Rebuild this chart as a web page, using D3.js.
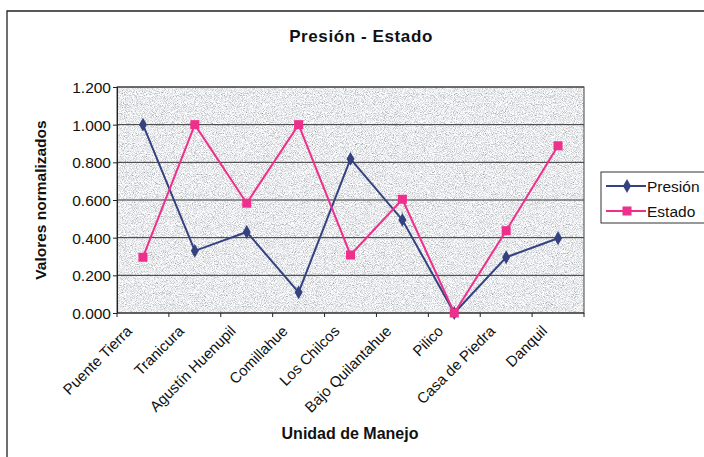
<!DOCTYPE html>
<html>
<head>
<meta charset="utf-8">
<script src="https://cdn.jsdelivr.net/npm/d3@7"></script>
<style>
  body { margin: 0; background: #fff; }
  text { font-family: "Liberation Sans", Arial, sans-serif; }
</style>
</head>
<body>
<svg id="chart" width="704" height="457"></svg>
<script>
// chart data
const unidades = ["Puente Tierra", "Tranicura", "Agustín Huenupil", "Comillahue", "Los Chilcos",
  "Bajo Quilantahue", "Pilico", "Casa de Piedra", "Danquil"];
const presion = [1.000, 0.330, 0.430, 0.110, 0.818, 0.494, 0.000, 0.296, 0.397];
const estado = [0.296, 1.000, 0.583, 1.000, 0.308, 0.604, 0.000, 0.437, 0.888];
const yTicks = [0, 0.2, 0.4, 0.6, 0.8, 1.0, 1.2];

const svg = d3.select("#chart");
const margin = { left: 117, top: 87, right: 584, bottom: 313 };

// speckled grey fill like the scanned plot area
const defs = svg.append("defs");
const filter = defs.append("filter").attr("id", "noise")
  .attr("x", 0).attr("y", 0).attr("width", "100%").attr("height", "100%");
filter.append("feTurbulence")
  .attr("type", "fractalNoise").attr("baseFrequency", 1.1).attr("numOctaves", 2).attr("seed", 7)
  .attr("result", "t");
filter.append("feColorMatrix").attr("in", "t").attr("type", "matrix")
  .attr("values", "1.3 0 0 0 0.16  1.3 0 0 0 0.175  1.3 0 0 0 0.195  0 0 0 0 1");

// outer chart border
svg.append("path")
  .attr("d", "M7,457 L7,11 L704,11")
  .attr("fill", "none").attr("stroke", "#222").attr("stroke-width", 1.3);

const x = d3.scaleBand().domain(unidades).range([margin.left, margin.right]);
const y = d3.scaleLinear().domain([0, 1.2]).range([margin.bottom, margin.top]);

// plot area
svg.append("rect")
  .attr("x", margin.left).attr("y", margin.top)
  .attr("width", margin.right - margin.left).attr("height", margin.bottom - margin.top)
  .attr("fill", "#c8ccd1").attr("filter", "url(#noise)");

// gridlines
svg.append("g").selectAll("line").data(yTicks.slice(1)).join("line")
  .attr("x1", margin.left).attr("x2", margin.right)
  .attr("y1", d => y(d)).attr("y2", d => y(d))
  .attr("stroke", "#333").attr("stroke-width", 1);

svg.append("rect")
  .attr("x", margin.left).attr("y", margin.top)
  .attr("width", margin.right - margin.left).attr("height", margin.bottom - margin.top)
  .attr("fill", "none").attr("stroke", "#444").attr("stroke-width", 1);

// y axis
const yAxis = d3.axisLeft(y).tickValues(yTicks).tickSize(4)
  .tickFormat(d => d3.format(".3f")(d));
const gy = svg.append("g").attr("transform", `translate(${margin.left},0)`).call(yAxis);
gy.select(".domain").attr("stroke", "#222");
gy.selectAll(".tick line").attr("stroke", "#222");
gy.selectAll(".tick text").attr("font-size", 15.5).attr("fill", "#111")
  .attr("font-family", "'Liberation Sans', Arial, sans-serif").attr("x", -6).attr("dy", "0.36em");

// x axis, ticks at category boundaries
const bounds = d3.range(unidades.length + 1).map(i => margin.left + i * x.step());
svg.append("line").attr("x1", margin.left).attr("x2", margin.right)
  .attr("y1", margin.bottom).attr("y2", margin.bottom).attr("stroke", "#222");
svg.append("g").selectAll("line").data(bounds).join("line")
  .attr("x1", d => d).attr("x2", d => d)
  .attr("y1", margin.bottom).attr("y2", margin.bottom + 4)
  .attr("stroke", "#222");

svg.append("g").selectAll("text").data(unidades).join("text")
  .attr("transform", d => `translate(${x(d) + x.bandwidth() / 2 - 10},${margin.bottom + 19}) rotate(-45)`)
  .attr("text-anchor", "end")
  .attr("font-size", 15)
  .attr("fill", "#111")
  .text(d => d);

// series lines
const cx = d => x(d) + x.bandwidth() / 2;
const line = d3.line().x(d => cx(d.u)).y(d => y(d.v));

const presionData = unidades.map((u, i) => ({ u: u, v: presion[i] }));
const estadoData = unidades.map((u, i) => ({ u: u, v: estado[i] }));

const colPresion = "#34427f";
const colEstado = "#ee2f8c";

svg.append("path").datum(presionData).attr("d", line)
  .attr("fill", "none").attr("stroke", colPresion).attr("stroke-width", 2);
svg.append("path").datum(estadoData).attr("d", line)
  .attr("fill", "none").attr("stroke", colEstado).attr("stroke-width", 2);

// markers
svg.append("g").selectAll("path").data(presionData).join("path")
  .attr("d", d3.symbol(d3.symbolDiamond, 55))
  .attr("transform", d => `translate(${cx(d.u)},${y(d.v)})`)
  .attr("fill", colPresion);
svg.append("g").selectAll("rect").data(estadoData).join("rect")
  .attr("x", d => cx(d.u) - 4.5).attr("y", d => y(d.v) - 4.5)
  .attr("width", 9).attr("height", 9)
  .attr("fill", colEstado);

// title and axis labels
svg.append("text").attr("x", 361).attr("y", 42).attr("text-anchor", "middle")
  .attr("font-size", 17).attr("font-weight", "bold").attr("fill", "#111")
  .attr("letter-spacing", 0.6)
  .text("Presión - Estado");

svg.append("text").attr("x", 350).attr("y", 439).attr("text-anchor", "middle")
  .attr("font-size", 16).attr("font-weight", "bold").attr("fill", "#111")
  .text("Unidad de Manejo");

svg.append("text")
  .attr("transform", "translate(46,200) rotate(-90)")
  .attr("text-anchor", "middle")
  .attr("font-size", 15.5).attr("font-weight", "bold").attr("fill", "#111")
  .text("Valores normalizados");

// legend
const legend = svg.append("g");
legend.append("rect").attr("x", 601).attr("y", 172).attr("width", 110).attr("height", 51)
  .attr("fill", "#fff").attr("stroke", "#333").attr("stroke-width", 1);

const series = [
  { name: "Presión", color: colPresion, yy: 186 },
  { name: "Estado", color: colEstado, yy: 211 }
];
series.forEach(s => {
  legend.append("line").attr("x1", 606).attr("x2", 646).attr("y1", s.yy).attr("y2", s.yy)
    .attr("stroke", s.color).attr("stroke-width", 2);
  if (s.name === "Presión") {
    legend.append("path").attr("d", d3.symbol(d3.symbolDiamond, 55))
      .attr("transform", `translate(627,${s.yy})`).attr("fill", s.color);
  } else {
    legend.append("rect").attr("x", 622.5).attr("y", s.yy - 4.5).attr("width", 9).attr("height", 9)
      .attr("fill", s.color);
  }
  legend.append("text").attr("x", 647).attr("y", s.yy).attr("dy", "0.36em")
    .attr("font-size", 15.5).attr("fill", "#111").text(s.name);
});
</script>
</body>
</html>
